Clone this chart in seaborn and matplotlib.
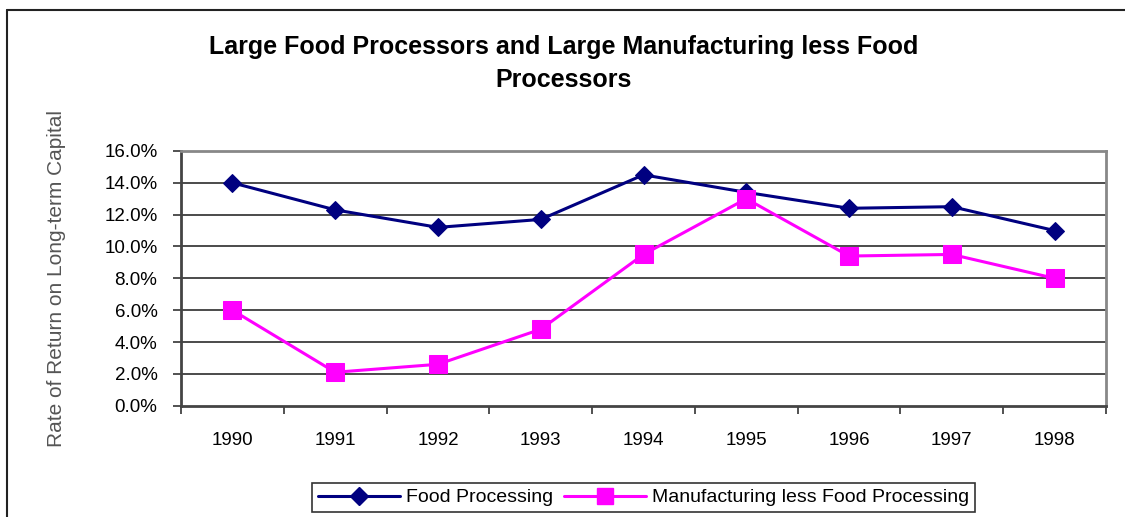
import pandas as pd
import matplotlib
matplotlib.use('Agg')
import matplotlib.pyplot as plt
import seaborn as sns
from matplotlib.lines import Line2D

years = [1990, 1991, 1992, 1993, 1994, 1995, 1996, 1997, 1998]
food = [14.0, 12.3, 11.2, 11.7, 14.5, 13.4, 12.4, 12.5, 11.0]
manuf = [6.0, 2.1, 2.6, 4.8, 9.5, 13.0, 9.4, 9.5, 8.0]
series_names = ['Food Processing', 'Manufacturing less Food Processing']
y_ticks = [0, 2, 4, 6, 8, 10, 12, 14, 16]

df = pd.DataFrame({
    'Year': years * 2,
    'Rate': food + manuf,
    'Series': [series_names[0]] * len(years) + [series_names[1]] * len(years),
})

sns.set_style('white')
plt.rcParams['font.family'] = ['Liberation Sans', 'DejaVu Sans']
plt.rcParams['text.color'] = 'black'
plt.rcParams['xtick.color'] = 'black'
plt.rcParams['ytick.color'] = 'black'

fig = plt.figure(figsize=(11.25, 5.17), dpi=100)
ax = fig.add_axes([0.1609, 0.2153, 0.8222, 0.4927])

navy = '#000080'
magenta = '#FF00FF'

sns.lineplot(data=df[df['Series'] == series_names[0]], x='Year', y='Rate',
             color=navy, marker='D', markersize=9.5, linewidth=2.2,
             markeredgecolor=navy, ax=ax, legend=False)
sns.lineplot(data=df[df['Series'] == series_names[1]], x='Year', y='Rate',
             color=magenta, marker='s', markersize=12.5, linewidth=2.2,
             markeredgecolor=magenta, ax=ax, legend=False)

ax.set_xlim(years[0] - 0.5, years[-1] + 0.5)
ax.set_ylim(0, 16)

# y axis
ax.set_yticks(y_ticks)
ax.set_yticklabels([f'{v:.1f}%' for v in y_ticks], fontsize=13.5)
ax.tick_params(axis='y', direction='out', length=6, width=1.2, color='#333333', pad=11, left=True)
for v in y_ticks[1:-1]:
    ax.axhline(v, color='#1a1a1a', linewidth=1.1, zorder=0)

# x axis: ticks at boundaries, labels at centers
bounds = [y - 0.5 for y in years] + [years[-1] + 0.5]
ax.set_xticks(bounds)
ax.set_xticklabels([''] * len(bounds))
ax.tick_params(axis='x', which='major', direction='out', length=6, width=1.2, color='#333333', bottom=True)
ax.set_xticks(years, minor=True)
ax.set_xticklabels([str(y) for y in years], minor=True, fontsize=13.5)
ax.tick_params(axis='x', which='minor', length=0, pad=19)

ax.set_xlabel('')
ax.set_ylabel('Rate of Return on Long-term Capital', fontsize=15, color='#555555')
ax.yaxis.set_label_coords(-0.124, 0.5)

for side in ['top', 'right']:
    ax.spines[side].set_color('#888888')
    ax.spines[side].set_linewidth(2)
for side in ['left', 'bottom']:
    ax.spines[side].set_color('#444444')
    ax.spines[side].set_linewidth(2)

fig.text(0.501, 1 - 63.5 / 517,
         'Large Food Processors and Large Manufacturing less Food\nProcessors',
         ha='center', va='center', fontsize=18, fontweight='bold', linespacing=1.5)

handles = [
    Line2D([], [], color=navy, marker='D', markersize=9.5, linewidth=2.2, markeredgecolor=navy),
    Line2D([], [], color=magenta, marker='s', markersize=11.5, linewidth=2.2, markeredgecolor=magenta),
]
leg = fig.legend(handles, series_names, loc='center', bbox_to_anchor=(0.572, 0.0377),
                 ncol=2, fontsize=14, frameon=True, fancybox=False, handlelength=4.2,
                 columnspacing=0.6, handletextpad=0.3, borderpad=0.3)
leg.get_frame().set_edgecolor('black')
leg.get_frame().set_linewidth(1.2)

# outer chart border (top and left edges visible)
fig.add_artist(Line2D([7 / 1125, 1.0], [1 - 10 / 517, 1 - 10 / 517], color='#222222', linewidth=1.5))
fig.add_artist(Line2D([7 / 1125, 7 / 1125], [0, 1 - 10 / 517], color='#222222', linewidth=1.5))

fig.savefig('out.png', dpi=100)
